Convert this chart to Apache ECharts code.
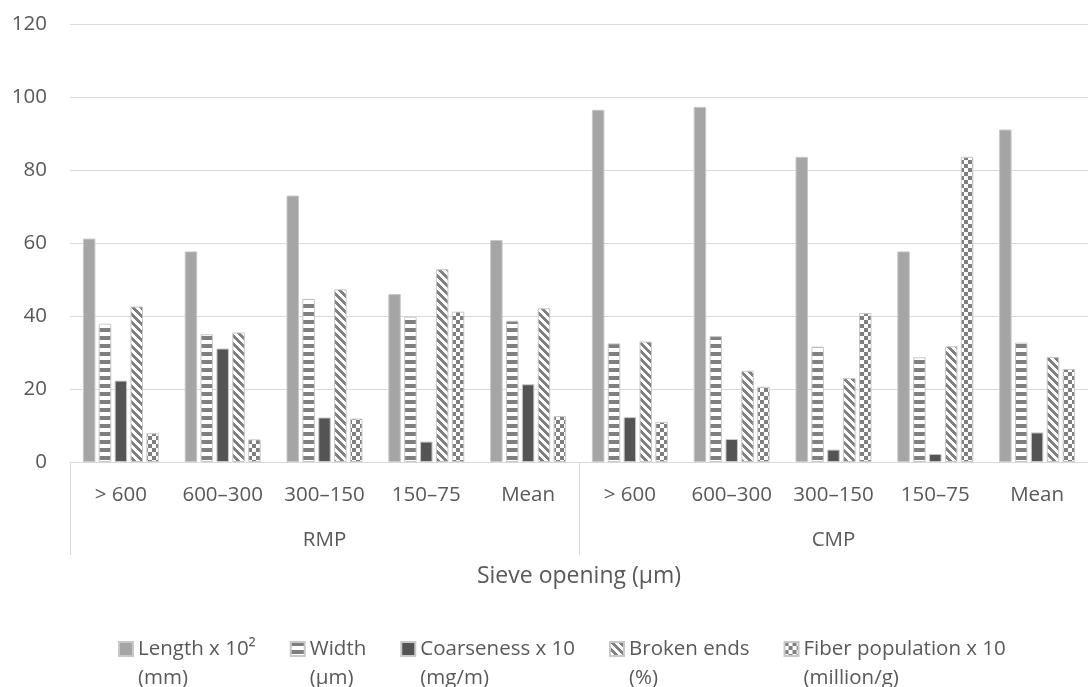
<!DOCTYPE html>
<html><head><meta charset="utf-8">
<script src="https://cdn.jsdelivr.net/npm/echarts@6/dist/echarts.min.js"></script>
<style>html,body{margin:0;padding:0;background:#fff}#c{width:1088px;height:687px}</style>
</head><body><div id="c"></div>
<script>
// ---- data ----
const groups = ['RMP', 'CMP'];
const sieveLabels = ['> 600', '600–300', '300–150', '150–75', 'Mean'];
const seriesNames = ['Length x 10²', 'Width', 'Coarseness x 10', 'Broken ends', 'Fiber population x 10'];
const seriesUnits = ['(mm)', '(μm)', '(mg/m)', '(%)', '(million/g)'];
const axisTitle = 'Sieve opening (μm)';
const yMin = 0, yMax = 120, yStep = 20;

const lengthVals     = [61.2, 57.7, 73.0, 46.0, 60.8, 96.5, 97.3, 83.6, 57.7, 91.1];
const widthVals      = [37.9, 35.0, 44.7, 39.8, 38.7, 32.5, 34.5, 31.6, 28.7, 32.7];
const coarsenessVals = [22.3, 31.1, 12.2, 5.6, 21.3, 12.3, 6.3, 3.4, 2.2, 8.1];
const brokenVals     = [42.6, 35.5, 47.3, 52.8, 42.1, 33.0, 25.0, 23.0, 31.7, 28.8];
const fiberVals      = [7.9, 6.2, 11.9, 41.2, 12.6, 11.0, 20.6, 40.8, 83.6, 25.5];

// ---- patterns ----
function tile(draw) {
  const c = document.createElement('canvas');
  c.width = 8; c.height = 8;
  const g = c.getContext('2d');
  g.fillStyle = '#ffffff'; g.fillRect(0, 0, 8, 8);
  g.fillStyle = '#7f7f7f';
  draw(g);
  return c;
}
const hStripe = tile(g => g.fillRect(0, 0, 8, 4));
const dStripe = tile(g => {
  for (let y = 0; y < 8; y++) for (let x = 0; x < 8; x++) {
    if ((((x - y) % 8) + 8) % 8 < 4) g.fillRect(x, y, 1, 1);
  }
});
const checker = tile(g => { g.fillRect(0, 0, 4, 4); g.fillRect(4, 4, 4, 4); });

const fills = [
  '#a5a5a5',
  { image: hStripe, repeat: 'repeat' },
  '#545454',
  { image: dStripe, repeat: 'repeat' },
  { image: checker, repeat: 'repeat' }
];
const valueSets = [lengthVals, widthVals, coarsenessVals, brokenVals, fiberVals];

const catIds = [];
groups.forEach(g => sieveLabels.forEach(s => catIds.push(g + '|' + s)));

const txt = '#595959';
const fs = 20.5;

const series = valueSets.map((vals, i) => ({
  name: seriesNames[i] + '\n' + seriesUnits[i],
  type: 'bar',
  xAxisIndex: 0,
  barWidth: 12.5,
  barGap: '27%',
  data: vals,
  itemStyle: { color: fills[i], borderColor: '#c8c8c8', borderWidth: 1 }
}));

const chart = echarts.init(document.getElementById('c'));
chart.setOption({
  animation: false,
  backgroundColor: '#ffffff',
  textStyle: { fontFamily: 'Open Sans', color: txt },
  grid: { left: 70, right: -11, top: 24, bottom: 225, containLabel: false },
  legend: {
    left: 118, top: 605.5, padding: 0,
    itemWidth: 14, itemHeight: 14, itemGap: 34, icon: 'rect',
    formatter: n => '\n' + n,
    textStyle: { fontSize: fs, color: txt, lineHeight: 29 }
  },
  xAxis: [
    {
      type: 'category', data: catIds, position: 'bottom',
      axisLine: { show: true, lineStyle: { color: '#d9d9d9', width: 1 } },
      axisTick: { show: false },
      axisLabel: { interval: 0, margin: 23, fontSize: fs, color: txt,
        formatter: v => v.split('|')[1] },
      name: axisTitle, nameLocation: 'middle', nameGap: 103,
      nameTextStyle: { fontSize: 23, color: txt }
    },
    {
      type: 'category', data: groups, position: 'bottom',
      axisLine: { show: false },
      axisTick: { show: true, length: 93, lineStyle: { color: '#d9d9d9', width: 1 } },
      axisLabel: { margin: 68, fontSize: fs, color: txt }
    }
  ],
  yAxis: {
    type: 'value', min: yMin, max: yMax, interval: yStep,
    axisLine: { show: false }, axisTick: { show: false },
    axisLabel: { margin: 23, fontSize: fs, color: txt },
    splitLine: { lineStyle: { color: '#d9d9d9', width: 1 } }
  },
  series: series
});
</script></body></html>
